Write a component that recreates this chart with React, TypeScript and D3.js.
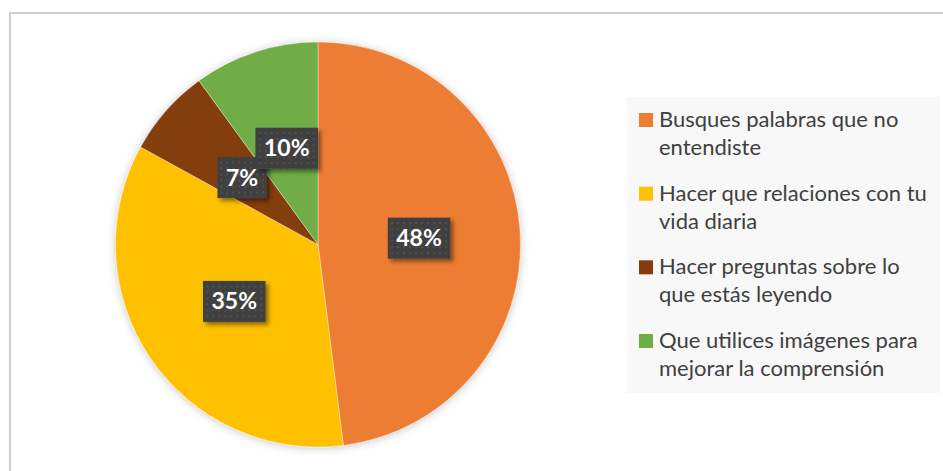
import { useEffect, useRef } from "react";
import * as d3 from "d3";

// data
const categories = [
  "Busques palabras que no entendiste",
  "Hacer que relaciones con tu vida diaria",
  "Hacer preguntas sobre lo que estás leyendo",
  "Que utilices imágenes para mejorar la comprensión",
];
const legendLines = [
  ["Busques palabras que no", "entendiste"],
  ["Hacer que relaciones con tu", "vida diaria"],
  ["Hacer preguntas sobre lo", "que estás leyendo"],
  ["Que utilices imágenes para", "mejorar la comprensión"],
];
const values = [48, 35, 7, 10];
const colors = ["#ED7D31", "#FFC000", "#843C0C", "#70AD47"];

const width = 943;
const height = 471;
const font = "Lato, 'Open Sans', sans-serif";

export default function App() {
  const ref = useRef<SVGSVGElement>(null);

  useEffect(() => {
    const svg = d3.select(ref.current);
    svg.selectAll("*").remove();

    const defs = svg.append("defs");
    const glow = defs.append("filter").attr("id", "pieGlow")
      .attr("x", "-20%").attr("y", "-20%").attr("width", "140%").attr("height", "140%");
    glow.append("feDropShadow").attr("dx", 0).attr("dy", 1).attr("stdDeviation", 4)
      .attr("flood-color", "#000").attr("flood-opacity", 0.22);

    const boxShadow = defs.append("filter").attr("id", "boxShadow")
      .attr("x", "-30%").attr("y", "-30%").attr("width", "170%").attr("height", "170%");
    boxShadow.append("feDropShadow").attr("dx", 3).attr("dy", 3).attr("stdDeviation", 2)
      .attr("flood-color", "#000").attr("flood-opacity", 0.45);

    const dots = defs.append("pattern").attr("id", "dots")
      .attr("patternUnits", "userSpaceOnUse").attr("width", 6).attr("height", 6);
    dots.append("rect").attr("width", 6).attr("height", 6).attr("fill", "#404040");
    dots.append("circle").attr("cx", 3).attr("cy", 3).attr("r", 1).attr("fill", "#575757");

    // chart frame
    svg.append("rect")
      .attr("x", 10).attr("y", 13).attr("width", 1000).attr("height", 1000)
      .attr("fill", "#fff").attr("stroke", "#d0d0d0").attr("stroke-width", 2);

    const cx = 318, cy = 244.5, r = 202.5;
    const pie = d3.pie<number>().sort(null).value(d => d);
    const arcs = pie(values);
    const arc = d3.arc<d3.PieArcDatum<number>>().innerRadius(0).outerRadius(r);

    const g = svg.append("g").attr("transform", `translate(${cx},${cy})`);
    g.append("g").attr("filter", "url(#pieGlow)")
      .selectAll("path")
      .data(arcs)
      .join("path")
      .attr("d", arc)
      .attr("fill", (d, i) => colors[i])
      .attr("stroke", "#fff")
      .attr("stroke-width", 0.6)
      .attr("stroke-opacity", 0.6);

    // data labels
    arcs.forEach((d, i) => {
      const [x, y] = arc.centroid(d);
      const lg = g.append("g").attr("transform", `translate(${x},${y})`);
      const rect = lg.append("rect").attr("fill", "url(#dots)").attr("filter", "url(#boxShadow)");
      const t = lg.append("text")
        .attr("text-anchor", "middle")
        .attr("y", 8)
        .attr("fill", "#fff")
        .attr("font-family", font)
        .attr("font-weight", "bold")
        .attr("font-size", 23)
        .text(`${values[i]}%`);
      const w = (t.node() as SVGTextElement).getComputedTextLength() + 17;
      rect.attr("x", -w / 2).attr("y", -20.5).attr("width", w).attr("height", 41);
    });

    // legend
    svg.append("rect")
      .attr("x", 627).attr("y", 97).attr("width", 313).attr("height", 296)
      .attr("fill", "#f8f8f8");

    const legend = svg.append("g");
    const itemY = d3.scalePoint<string>().domain(categories).range([127, 348]);
    categories.forEach((c, i) => {
      const y0 = itemY(c) as number;
      legend.append("rect")
        .attr("x", 639).attr("y", y0 - 14).attr("width", 14).attr("height", 14)
        .attr("fill", colors[i]);
      legendLines[i].forEach((line, j) => {
        legend.append("text")
          .attr("x", 659).attr("y", y0 + j * 28)
          .attr("fill", "#404040")
          .attr("font-family", font)
          .attr("font-size", 22)
          .text(line);
      });
    });
  }, []);

  return (
    <svg
      ref={ref}
      width={width}
      height={height}
      style={{ position: "absolute", left: 0, top: 0, background: "#fff" }}
    />
  );
}
